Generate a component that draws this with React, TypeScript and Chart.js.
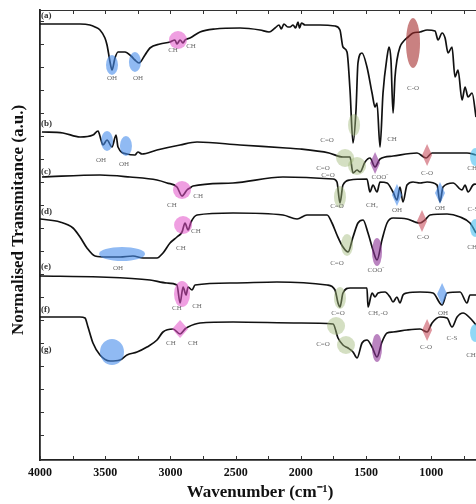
import React, { useEffect, useRef } from "react";
import { Chart, registerables } from "chart.js";

Chart.register(...registerables);

// ---- axis ----
const X_TICKS = [4000, 3500, 3000, 2500, 2000, 1500, 1000];
const X_MIN = 657;
const X_MAX = 4000;

// ---- spectra: [wavenumber (cm-1), normalised transmittance (offset, a.u.)] ----
const SPEC_A: [number, number][] = [
  [4000, 436], [3847, 436], [3693, 436], [3617, 435], [3578, 433], [3540, 430], [3502, 422], [3486, 415],
  [3463, 398], [3448, 390], [3425, 402], [3402, 408], [3348, 408], [3302, 404], [3272, 400], [3241, 397],
  [3195, 405], [3157, 412], [3080, 416], [3003, 418], [2965, 420], [2950, 416], [2926, 420], [2903, 417],
  [2888, 420], [2850, 422], [2773, 428], [2658, 431], [2466, 432], [2313, 430], [2244, 428], [2198, 432],
  [2167, 435], [2150, 431], [2130, 436], [2100, 433], [2083, 433], [2060, 435], [2040, 432], [2022, 438],
  [2010, 432], [1995, 437], [1968, 435], [1853, 435], [1738, 434], [1700, 430], [1677, 413], [1646, 408],
  [1623, 370], [1600, 317], [1577, 350], [1562, 397], [1531, 407], [1493, 393], [1454, 367], [1431, 353],
  [1416, 357], [1393, 313], [1370, 367], [1339, 403], [1324, 413], [1309, 400], [1293, 347], [1278, 383],
  [1263, 400], [1240, 413], [1217, 418], [1178, 423], [1140, 427], [1086, 428], [1032, 430], [971, 429],
  [948, 420], [917, 427], [894, 422], [871, 407], [841, 413], [818, 383], [795, 390], [764, 360],
  [741, 373], [718, 363], [687, 367], [657, 343],
];

const SPEC_B: [number, number][] = [
  [3985, 328], [3824, 327], [3693, 323], [3594, 325], [3555, 329], [3532, 320], [3517, 315], [3486, 320],
  [3448, 313], [3417, 325], [3402, 313], [3333, 306], [3272, 305], [3249, 308], [3218, 306], [3103, 310],
  [2926, 315], [2796, 318], [2466, 315], [2114, 312], [2006, 311], [1784, 307], [1677, 303], [1623, 303],
  [1600, 287], [1569, 290], [1546, 288], [1508, 298], [1470, 302], [1431, 293], [1393, 301], [1293, 304],
  [1109, 307], [1040, 302], [994, 307], [856, 307], [726, 307], [657, 305],
];

const SPEC_C: [number, number][] = [
  [3985, 283], [3540, 285], [3310, 283], [3103, 280], [3026, 277], [2950, 273], [2911, 264], [2873, 270],
  [2850, 272], [2827, 274], [2520, 277], [2137, 283], [1753, 281], [1723, 278], [1700, 257], [1677, 275],
  [1623, 280], [1493, 281], [1470, 268], [1447, 275], [1416, 268], [1393, 278], [1339, 277], [1293, 268],
  [1263, 260], [1240, 273], [1217, 258], [1186, 275], [1140, 278], [1086, 277], [1032, 278], [956, 275],
  [933, 258], [910, 273], [833, 277], [764, 270], [741, 275], [718, 268], [680, 275], [657, 276],
];

const SPEC_D: [number, number][] = [
  [4000, 241], [3847, 238], [3747, 232], [3693, 223], [3640, 212], [3578, 204], [3486, 203], [3387, 203],
  [3287, 204], [3210, 202], [3103, 202], [3057, 207], [3003, 217], [2950, 223], [2911, 228], [2888, 237],
  [2865, 230], [2842, 238], [2796, 245], [2520, 247], [2137, 245], [2029, 241], [1953, 245], [1799, 245],
  [1761, 237], [1723, 225], [1677, 213], [1638, 208], [1600, 223], [1562, 237], [1523, 240], [1485, 227],
  [1447, 210], [1416, 200], [1378, 220], [1339, 237], [1293, 242], [1186, 241], [1125, 238], [1086, 237],
  [1048, 240], [1010, 245], [879, 246], [779, 243], [703, 237], [657, 227],
];

const SPEC_E: [number, number][] = [
  [4000, 184], [3540, 183], [3157, 180], [3026, 177], [2950, 175], [2926, 157], [2903, 173], [2880, 165],
  [2865, 173], [2834, 170], [2811, 175], [2520, 177], [2183, 178], [1799, 175], [1738, 170], [1715, 157],
  [1700, 153], [1677, 167], [1623, 172], [1493, 172], [1485, 153], [1454, 167], [1431, 163], [1408, 167],
  [1355, 168], [1316, 163], [1293, 158], [1263, 163], [1240, 157], [1217, 165], [1186, 167], [1086, 168],
  [987, 167], [917, 155], [879, 167], [779, 168], [726, 157], [703, 165], [657, 165],
];

const SPEC_F: [number, number][] = [
  [4000, 143], [3693, 143], [3655, 142], [3632, 133], [3594, 117], [3540, 105], [3463, 99], [3387, 100],
  [3333, 105], [3256, 108], [3180, 113], [3103, 120], [3057, 128], [2980, 131], [2926, 126], [2888, 131],
  [2865, 133], [2773, 137], [2520, 138], [2006, 137], [1753, 136], [1715, 122], [1677, 115], [1638, 112],
  [1600, 108], [1569, 102], [1531, 117], [1493, 120], [1454, 113], [1416, 103], [1378, 118], [1339, 127],
  [1293, 128], [1186, 130], [1086, 131], [1032, 128], [994, 137], [933, 143], [879, 142], [841, 133],
  [802, 143], [756, 147], [703, 142], [657, 135],
];

const SPECTRA = [SPEC_A, SPEC_B, SPEC_C, SPEC_D, SPEC_E, SPEC_F];

// ---- curve tags ----
const TAGS = ["(a)", "(b)", "(c)", "(d)", "(e)", "(f)", "(g)"];
const TAG_Y = [444, 336, 288, 248, 193, 150, 110];

// ---- band assignments: [text, wavenumber, y] ----
const BAND_LABELS: [string, number, number][] = [
  ["OH", 3448, 382], ["OH", 3249, 382], ["CH", 2980, 410], ["CH", 2842, 414], ["C-O", 1140, 372],
  ["C=O", 1799, 320], ["CH", 1301, 321],
  ["OH", 3532, 300], ["OH", 3356, 296], ["C=O", 1830, 292], ["C=O", 1792, 285], ["COO⁻", 1393, 283],
  ["C-O", 1032, 287], ["CH", 687, 292],
  ["CH", 2988, 255], ["CH", 2788, 264], ["C=O", 1723, 254], ["CH₂", 1454, 255], ["OH", 1263, 250],
  ["OH", 933, 252], ["C-S", 680, 251],
  ["OH", 3402, 192], ["CH", 2919, 212], ["CH", 2804, 229], ["C=O", 1723, 197], ["COO⁻", 1424, 190],
  ["C-O", 1063, 223], ["CH", 687, 213],
  ["CH", 2950, 152], ["CH", 2796, 154], ["C=O", 1715, 147], ["CH₂-O", 1408, 147], ["OH", 910, 147],
  ["CH", 2996, 117], ["CH", 2827, 117], ["C=O", 1830, 116], ["C-O", 1040, 113], ["C-S", 841, 122],
  ["CH", 695, 105],
];

// ---- band highlight markers: [wavenumber, y, group, shape] ----
const BAND_MARKS: [number, number, string, string][] = [
  [3448, 395, "OH", "e"], [3272, 398, "OH", "e"], [2942, 420, "CH", "c"], [1140, 417, "CO", "e"],
  [1592, 335, "CdO", "e"],
  [3486, 319, "OH", "e"], [3341, 314, "OH", "e"], [1661, 302, "CdO", "c"], [1569, 294, "CdO", "c"],
  [1431, 297, "COO", "d"], [1032, 305, "CO2", "d"], [664, 303, "CHx", "e"],
  [2911, 270, "CH", "c"], [1700, 263, "CdO", "e"], [1263, 265, "OH", "d"], [933, 267, "OH", "d"],
  [3371, 206, "OH", "w"], [2903, 235, "CH", "c"], [1646, 215, "CdO", "e"], [1416, 208, "COO", "e"],
  [1071, 239, "CO2", "d"], [664, 232, "CHx", "e"],
  [2911, 166, "CH", "e"], [1700, 162, "CdO", "e"], [917, 166, "OH", "d"],
  [3448, 108, "OH", "c"], [2926, 131, "CH", "d"], [1730, 134, "CdO", "c"], [1654, 115, "CdO", "c"],
  [1416, 112, "COO", "e"], [1032, 130, "CO2", "d"], [664, 127, "CHx", "e"],
];

const MARK_STYLE: Record<string, string> = {
  OH: "rgba(70,140,235,0.6)",
  CH: "rgba(225,80,200,0.55)",
  CO: "rgba(165,45,45,0.6)",
  CO2: "rgba(200,80,95,0.6)",
  CdO: "rgba(160,185,120,0.45)",
  COO: "rgba(140,50,150,0.6)",
  CHx: "rgba(70,190,240,0.6)",
};

const SERIF = "'Liberation Serif', 'Times New Roman', serif";

const overlay = {
  id: "overlay",
  afterDatasetsDraw(chart: any) {
    const { ctx, chartArea: ca, scales } = chart;
    const xs = scales.x;
    const ys = scales.y;
    ctx.save();
    ctx.beginPath();
    ctx.rect(ca.left, ca.top, ca.right - ca.left, ca.bottom - ca.top);
    ctx.clip();

    // markers
    for (const [wn, v, g, shape] of BAND_MARKS) {
      const px = xs.getPixelForValue(wn);
      const py = ys.getPixelForValue(v);
      ctx.fillStyle = MARK_STYLE[g];
      ctx.beginPath();
      let w = 5, h = 9;
      if (g === "CO") { w = 7; h = 25; }
      else if (shape === "c") { w = g === "OH" ? 12 : 9; h = g === "OH" ? 13 : 9; }
      else if (shape === "w") { w = 23; h = 7; }
      else if (g === "COO") { w = 5; h = 14; }
      else if (g === "OH" && shape === "e") { w = 6; h = 10; }
      else if (g === "CdO") { w = 6; h = 11; }
      else if (g === "CH") { w = 8; h = 13; }
      if (shape === "d") {
        h = g === "CH" ? 9 : 11;
        w = g === "CH" ? 8 : 5;
        ctx.moveTo(px, py - h);
        ctx.lineTo(px + w, py);
        ctx.lineTo(px, py + h);
        ctx.lineTo(px - w, py);
        ctx.closePath();
      } else {
        ctx.ellipse(px, py, w, h, 0, 0, Math.PI * 2);
      }
      ctx.fill();
    }

    // band labels
    ctx.fillStyle = "#6a6a6a";
    ctx.font = `7px ${SERIF}`;
    ctx.textAlign = "center";
    ctx.textBaseline = "middle";
    for (const [t, wn, v] of BAND_LABELS) {
      ctx.fillText(t, xs.getPixelForValue(wn), ys.getPixelForValue(v));
    }
    ctx.restore();

    // curve tags
    ctx.save();
    ctx.fillStyle = "#333";
    ctx.font = `bold 9px ${SERIF}`;
    ctx.textAlign = "left";
    ctx.textBaseline = "middle";
    TAGS.forEach((t, i) => {
      ctx.fillText(t, ca.left + 1, ys.getPixelForValue(TAG_Y[i]));
    });

    // frame: top border + inward ticks
    ctx.strokeStyle = "#333";
    ctx.lineWidth = 1.2;
    ctx.beginPath();
    ctx.moveTo(ca.left, ca.top + 0.5);
    ctx.lineTo(ca.right, ca.top + 0.5);
    ctx.stroke();
    ctx.lineWidth = 1;
    ctx.beginPath();
    for (let v = 4000; v >= X_MIN; v -= 250) {
      const px = Math.round(xs.getPixelForValue(v)) + 0.5;
      ctx.moveTo(px, ca.bottom);
      ctx.lineTo(px, ca.bottom - 4);
      ctx.moveTo(px, ca.top);
      ctx.lineTo(px, ca.top + 4);
    }
    for (let v = 25; v < 450; v += 23) {
      const py = Math.round(ys.getPixelForValue(v)) + 0.5;
      ctx.moveTo(ca.left, py);
      ctx.lineTo(ca.left + 4, py);
    }
    ctx.stroke();

    // axis titles
    ctx.fillStyle = "#111";
    ctx.font = `bold 17px ${SERIF}`;
    ctx.textAlign = "center";
    ctx.textBaseline = "middle";
    ctx.save();
    ctx.translate(19, 220);
    ctx.rotate(-Math.PI / 2);
    ctx.fillText("Normalised Transmitance (a.u.)", 0, 0);
    ctx.restore();
    ctx.font = `bold 17px ${SERIF}`;
    ctx.fillText("Wavenumber (cm⁻¹)", 260, 493);
    ctx.restore();
  },
};

export default function App() {
  const ref = useRef<HTMLCanvasElement | null>(null);

  useEffect(() => {
    if (!ref.current) return;
    const chart = new Chart(ref.current, {
      type: "line",
      data: {
        datasets: SPECTRA.map((s) => ({
          data: s.map(([x, y]) => ({ x, y })),
          borderColor: "#111",
          borderWidth: 1.7,
          pointRadius: 0,
          fill: false,
          cubicInterpolationMode: "monotone" as const,
        })),
      },
      options: {
        animation: false,
        responsive: false,
        devicePixelRatio: 1,
        parsing: true,
        layout: { padding: { top: 10, right: 0, left: 0, bottom: 0 } },
        plugins: { legend: { display: false }, tooltip: { enabled: false } },
        scales: {
          x: {
            type: "linear",
            min: X_MIN,
            max: X_MAX,
            reverse: true,
            afterBuildTicks: (scale: any) => {
              scale.ticks = X_TICKS.map((v) => ({ value: v }));
            },
            afterFit: (scale: any) => {
              scale.height = 44;
            },
            grid: { drawOnChartArea: false, drawTicks: false },
            border: { display: true, color: "#222", width: 1.8 },
            ticks: {
              color: "#111",
              padding: 6,
              maxRotation: 0,
              font: { family: SERIF, size: 12, weight: "bold" },
              callback: (v: any) => String(v),
            },
          },
          y: {
            type: "linear",
            min: 0,
            max: 450,
            afterFit: (scale: any) => {
              scale.width = 40;
            },
            grid: { drawOnChartArea: false, drawTicks: false },
            border: { display: true, color: "#222", width: 1.8 },
            ticks: { display: false },
          },
        },
      },
      plugins: [overlay],
    });
    return () => chart.destroy();
  }, []);

  return (
    <div style={{ position: "fixed", left: 0, top: 0, width: 476, height: 504, background: "#fff" }}>
      <canvas ref={ref} width={476} height={504} style={{ display: "block" }} />
    </div>
  );
}
